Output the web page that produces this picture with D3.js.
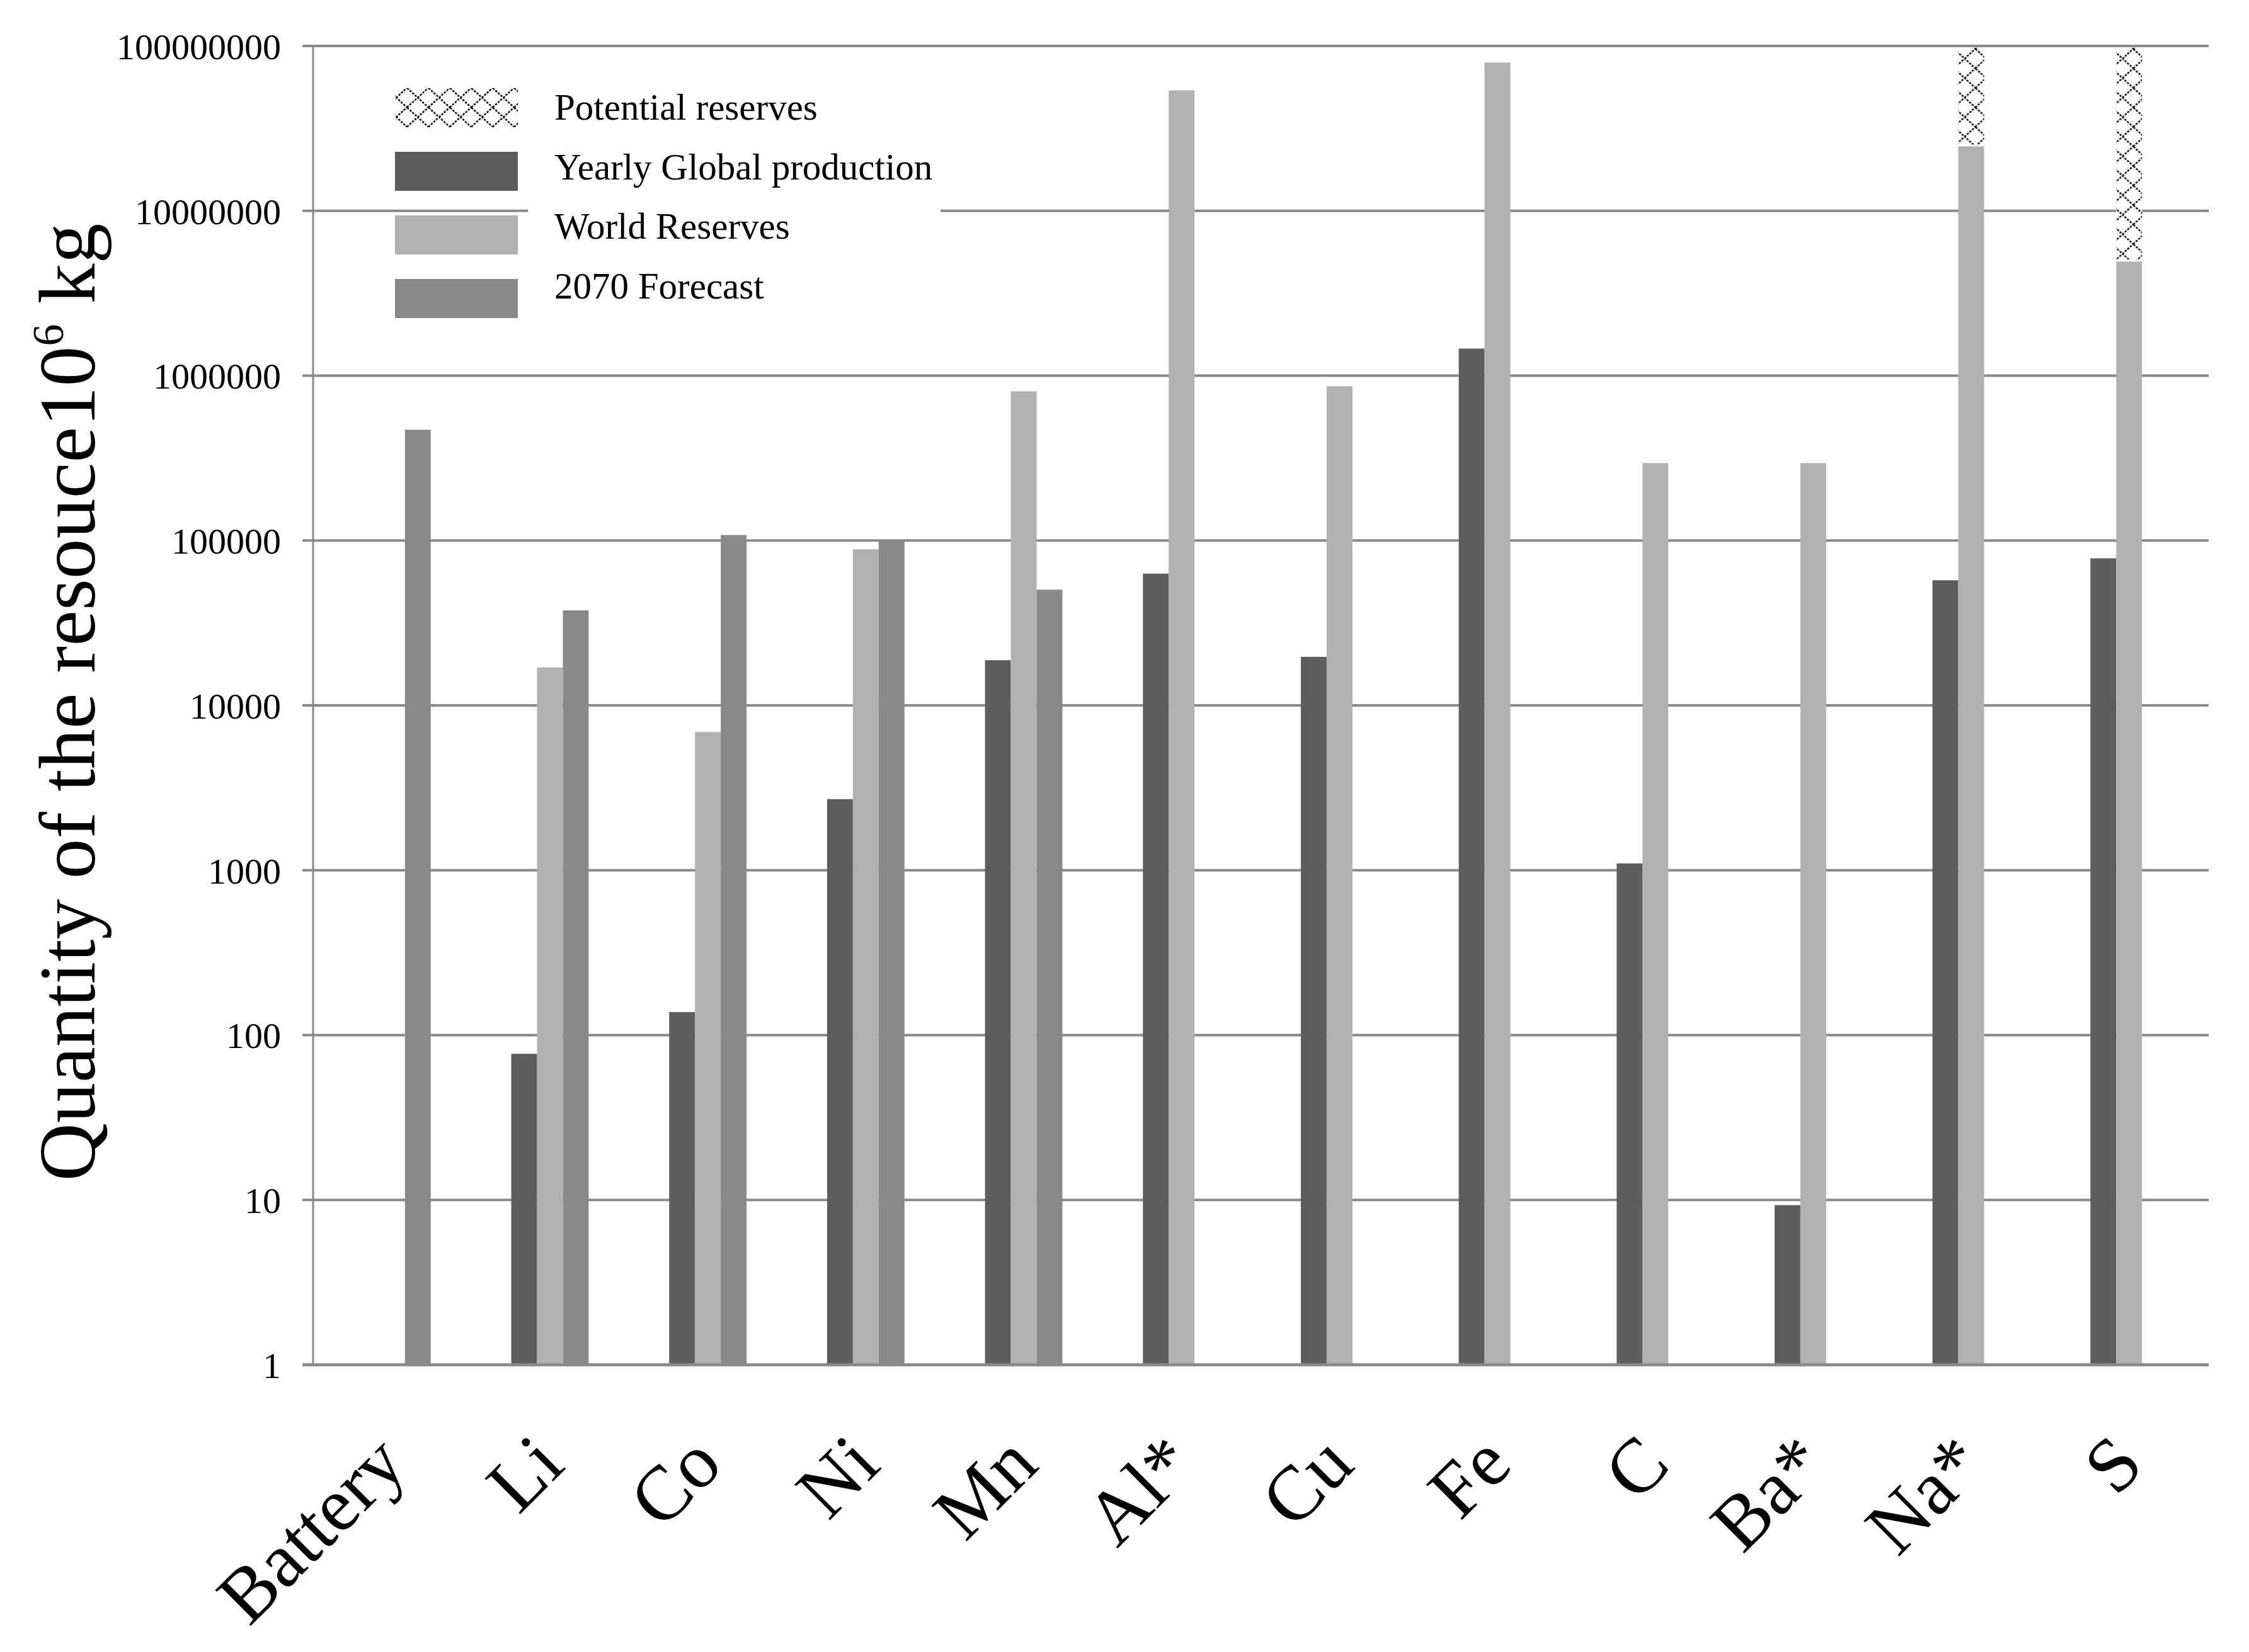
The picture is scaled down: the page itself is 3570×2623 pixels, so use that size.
<!DOCTYPE html>
<html>
<head>
<meta charset="utf-8">
<script src="https://cdn.jsdelivr.net/npm/d3@7"></script>
<style>
  html, body { margin: 0; padding: 0; background: #ffffff; }
  svg { display: block; }
</style>
</head>
<body>
<svg id="chart" width="3570" height="2623"></svg>
<script>
// ---------------- data ----------------
const categories = ["Battery", "Li", "Co", "Ni", "Mn", "Al*", "Cu", "Fe", "C", "Ba*", "Na*", "S"];
const yearlyProduction = [null, 77, 138, 2700, 18800, 63000, 19700, 1460000, 1100, 9.3, 57400, 78000];
const worldReserves = [null, 17000, 6900, 88500, 804000, 53800000, 863000, 79300000, 295000, 295000, 24600000, 4920000];
const forecast2070 = [470000, 37700, 108000, 99000, 50400, null, null, null, null, null, null, null];
const potentialReserves = [null, null, null, null, null, null, null, null, null, null, 100000000, 100000000];
const yTicks = [1, 10, 100, 1000, 10000, 100000, 1000000, 10000000, 100000000];
const legendLabels = ["Potential reserves", "Yearly Global production", "World Reserves", "2070 Forecast"];

// ---------------- layout ----------------
const W = 3570, H = 2623;
const plot = { left: 497, right: 3505, top: 73, bottom: 2167 };
const serif = "'Liberation Serif', 'Times New Roman', serif";
const colors = { prod: "#5d5d5d", res: "#b1b1b1", fore: "#898989", grid: "#8a8a8a" };

const svg = d3.select("#chart");
svg.append("rect").attr("width", W).attr("height", H).attr("fill", "#fff");

// hatch pattern (dotted diamond lattice)
const defs = svg.append("defs");
const pat = defs.append("pattern")
  .attr("id", "diamond")
  .attr("patternUnits", "userSpaceOnUse")
  .attr("width", 34).attr("height", 31);
pat.append("rect").attr("width", 34).attr("height", 31).attr("fill", "#fff");
pat.append("path")
  .attr("d", "M0,15.5 L17,0 L34,15.5 L17,31 Z")
  .attr("fill", "none")
  .attr("stroke", "#111")
  .attr("stroke-width", 2.6)
  .attr("stroke-dasharray", "3.5,2");

// scales
const y = d3.scaleLog().domain([1, 1e8]).range([plot.bottom, plot.top]);
const x0 = d3.scaleBand().domain(categories).range([plot.left, plot.right])
  .paddingInner(0.51).paddingOuter(0.255);
const series = ["prod", "res", "fore"];
const x1 = d3.scaleBand().domain(series).range([0, x0.bandwidth()]);

// gridlines + tick marks
const gridG = svg.append("g");
gridG.selectAll("line").data(yTicks).join("line")
  .attr("x1", plot.left - 17).attr("x2", plot.right + 1)
  .attr("y1", d => y(d)).attr("y2", d => y(d))
  .attr("stroke", colors.grid).attr("stroke-width", 4);

// y axis line
svg.append("line")
  .attr("x1", plot.left).attr("x2", plot.left)
  .attr("y1", plot.top).attr("y2", plot.bottom)
  .attr("stroke", "#888").attr("stroke-width", 3);

// y tick labels via d3 axis
const yAxis = d3.axisLeft(y).tickValues(yTicks).tickFormat(d3.format("d")).tickSize(0).tickPadding(0);
const yAxisG = svg.append("g").attr("transform", `translate(446,0)`).call(yAxis);
yAxisG.select(".domain").remove();
yAxisG.selectAll("text")
  .attr("font-family", serif).attr("font-size", 58).attr("fill", "#000")
  .attr("dy", "0.35em");

// bars
const rows = categories.map((c, i) => ({
  cat: c,
  prod: yearlyProduction[i],
  res: worldReserves[i],
  fore: forecast2070[i],
  pot: potentialReserves[i]
}));

const groups = svg.append("g").selectAll("g").data(rows).join("g")
  .attr("transform", d => `translate(${x0(d.cat)},0)`);

groups.selectAll("rect.bar")
  .data(d => series.filter(s => d[s] != null).map(s => ({ key: s, value: d[s] })))
  .join("rect").attr("class", "bar")
  .attr("x", d => x1(d.key))
  .attr("width", x1.bandwidth())
  .attr("y", d => y(d.value))
  .attr("height", d => y(1) - y(d.value))
  .attr("fill", d => colors[d.key]);

// potential reserves hatch stacked above world reserves
groups.filter(d => d.pot != null).append("rect")
  .attr("x", x1("res"))
  .attr("width", x1.bandwidth())
  .attr("y", d => y(d.pot) + 3)
  .attr("height", d => y(d.res) - y(d.pot) - 6)
  .attr("fill", "url(#diamond)");

// redraw bottom axis line on top
svg.append("line")
  .attr("x1", plot.left - 17).attr("x2", plot.right + 1)
  .attr("y1", plot.bottom).attr("y2", plot.bottom)
  .attr("stroke", colors.grid).attr("stroke-width", 5);

// x labels
const xAxisG = svg.append("g");
xAxisG.selectAll("text").data(categories).join("text")
  .attr("transform", d => `translate(${x0(d) + x0.bandwidth() / 2 + 27},${plot.bottom + 163}) rotate(-45)`)
  .attr("text-anchor", "end")
  .attr("font-family", serif).attr("font-size", 122).attr("fill", "#000")
  .text(d => d);

// y title
const title = svg.append("text")
  .attr("transform", `translate(150,1115) rotate(-90)`)
  .attr("text-anchor", "middle")
  .attr("font-family", serif).attr("font-size", 128).attr("fill", "#000");
title.append("tspan").text("Quantity of the resouce10");
title.append("tspan").attr("font-size", 70).attr("dy", -50).text("6");
title.append("tspan").attr("dy", 50).text(" kg");

// legend
const legend = svg.append("g");
legend.append("rect").attr("x", 838).attr("y", 100).attr("width", 655).attr("height", 420).attr("fill", "#fff");
const legendFills = ["url(#diamond)", colors.prod, colors.res, colors.fore];
const li = legend.selectAll("g.item").data(legendLabels).join("g").attr("class", "item");
li.append("rect")
  .attr("x", 627).attr("y", (d, i) => 140 + i * 101)
  .attr("width", 195).attr("height", 62)
  .attr("fill", (d, i) => legendFills[i]);
li.append("text")
  .attr("x", 880).attr("y", (d, i) => 190 + i * 94.5)
  .attr("font-family", serif).attr("font-size", 59).attr("fill", "#000")
  .text(d => d);
</script>
</body>
</html>
